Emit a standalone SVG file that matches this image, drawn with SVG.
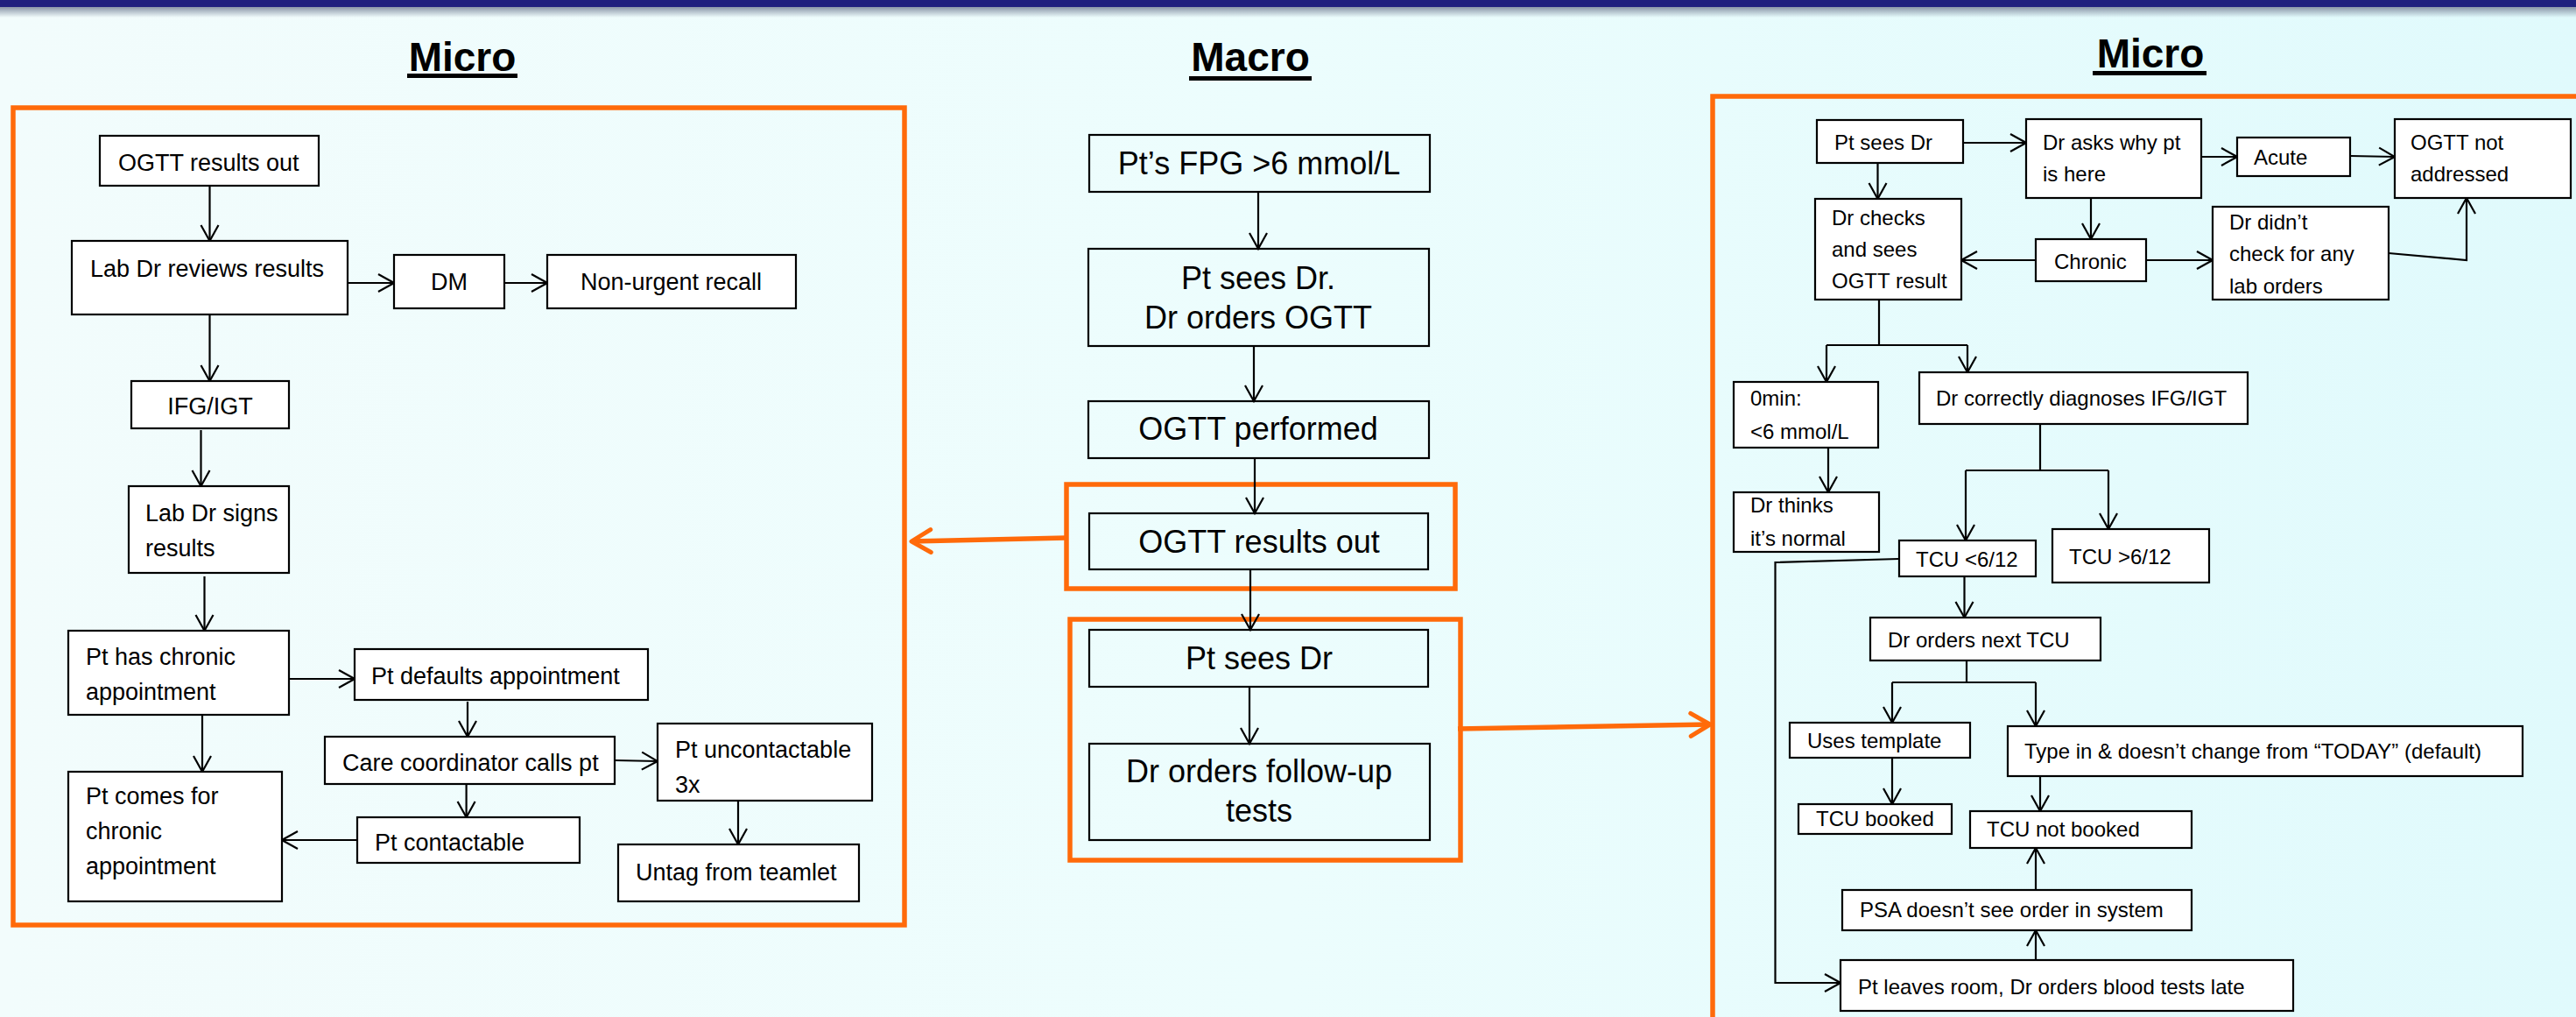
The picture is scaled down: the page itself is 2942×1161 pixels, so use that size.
<svg xmlns="http://www.w3.org/2000/svg" width="2942" height="1161" viewBox="0 0 2942 1161">
<defs>
<linearGradient id="bg" x1="0" y1="0" x2="1" y2="0">
<stop offset="0" stop-color="#F2FCFC"/>
<stop offset="0.5" stop-color="#ECFDFD"/>
<stop offset="1" stop-color="#E0FAFC"/>
</linearGradient>
<linearGradient id="shade" x1="0" y1="0" x2="0" y2="1">
<stop offset="0" stop-color="#8A96A8"/>
<stop offset="1" stop-color="#8A96A8" stop-opacity="0"/>
</linearGradient>
<marker id="ah" markerUnits="userSpaceOnUse" viewBox="-2 -12 22 24" refX="18" refY="0" markerWidth="22" markerHeight="24" orient="auto">
<path d="M0,-10 L18,0 L0,10" fill="none" stroke="#000" stroke-width="2.2"/>
</marker>
<marker id="oh" markerUnits="userSpaceOnUse" viewBox="-3 -16 28 32" refX="22" refY="0" markerWidth="28" markerHeight="32" orient="auto">
<path d="M0,-13 L22,0 L0,13" fill="none" stroke="#FF6A0A" stroke-width="5" stroke-linecap="round" stroke-linejoin="round"/>
</marker>
</defs>
<style>
.box{fill:#fff;stroke:#000;stroke-width:2.2}
.mbox{fill:none;stroke:#000;stroke-width:2.2}
.org{fill:none;stroke:#FF6A0A;stroke-width:5.5}
.c{fill:none;stroke:#000;stroke-width:2.2}
.ca{fill:none;stroke:#000;stroke-width:2.2;marker-end:url(#ah)}
.oc{fill:none;stroke:#FF6A0A;stroke-width:5.5;marker-end:url(#oh)}
text{font-family:"Liberation Sans",Arial,sans-serif;fill:#000}
.ttl{font-size:46px;font-weight:bold;text-anchor:middle}
.l{font-size:27px}
.m{font-size:36px;text-anchor:middle}
.r{font-size:24px}
</style>
<rect x="0" y="0" width="2942" height="1161" fill="url(#bg)"/>
<rect x="0" y="8" width="2942" height="12" fill="url(#shade)"/>
<rect x="0" y="0" width="2942" height="8" fill="#20207E"/>

<g id="titles">
<text class="ttl" x="528" y="81">Micro</text>
<rect x="465" y="84" width="126" height="5"/>
<text class="ttl" x="1428" y="81">Macro</text>
<rect x="1358" y="87" width="140" height="5"/>
<text class="ttl" x="2456" y="77">Micro</text>
<rect x="2390" y="81" width="130" height="5"/>
</g>

<g id="frames">
<rect class="org" x="15" y="123" width="1018" height="933"/>
<rect class="org" x="1218" y="553" width="444" height="119"/>
<rect class="org" x="1222" y="707" width="446" height="275"/>
<rect class="org" x="1956" y="110" width="1100" height="1200"/>
</g>

<g id="connectors">
<!-- left -->
<line class="ca" x1="239.5" y1="212" x2="239.5" y2="275"/>
<line class="ca" x1="397" y1="323" x2="450" y2="323"/>
<line class="ca" x1="576" y1="323" x2="625" y2="323"/>
<line class="ca" x1="239.5" y1="359" x2="239.5" y2="435"/>
<line class="ca" x1="229.5" y1="491" x2="229.5" y2="555"/>
<line class="ca" x1="233.5" y1="658" x2="233.5" y2="720"/>
<line class="ca" x1="330" y1="775" x2="405" y2="775"/>
<line class="ca" x1="534" y1="801" x2="534" y2="841"/>
<line class="ca" x1="702" y1="868" x2="751" y2="869"/>
<line class="ca" x1="843" y1="914" x2="843" y2="964"/>
<line class="ca" x1="532.6" y1="895" x2="532.6" y2="933"/>
<line class="ca" x1="408" y1="959" x2="322" y2="959"/>
<line class="ca" x1="231" y1="816" x2="231" y2="881"/>
<!-- middle -->
<line class="ca" x1="1437" y1="219" x2="1437" y2="284"/>
<line class="ca" x1="1432" y1="395" x2="1432" y2="458"/>
<line class="ca" x1="1433" y1="523" x2="1433" y2="586"/>
<line class="ca" x1="1428" y1="650" x2="1428" y2="719"/>
<line class="ca" x1="1427" y1="784" x2="1427" y2="849"/>
<line class="oc" x1="1218" y1="614" x2="1041" y2="618"/>
<line class="oc" x1="1665" y1="832" x2="1953" y2="827"/>
<!-- right -->
<line class="ca" x1="2242" y1="163" x2="2314" y2="163"/>
<line class="ca" x1="2514" y1="179" x2="2555" y2="179"/>
<line class="ca" x1="2684" y1="178" x2="2735" y2="179"/>
<line class="ca" x1="2144.5" y1="186" x2="2144.5" y2="227"/>
<line class="ca" x1="2388" y1="226" x2="2388" y2="273"/>
<line class="ca" x1="2325" y1="297" x2="2240" y2="297"/>
<line class="ca" x1="2451" y1="297" x2="2527" y2="297"/>
<polyline class="ca" points="2728,289 2817,297 2817,226"/>
<line class="c" x1="2146" y1="342" x2="2146" y2="394"/>
<line class="c" x1="2086" y1="394" x2="2247" y2="394"/>
<line class="ca" x1="2086" y1="394" x2="2086" y2="436"/>
<line class="ca" x1="2247" y1="394" x2="2247" y2="425"/>
<line class="ca" x1="2088" y1="511" x2="2088" y2="562"/>
<line class="c" x1="2330" y1="484" x2="2330" y2="537"/>
<line class="c" x1="2245" y1="537" x2="2408" y2="537"/>
<line class="ca" x1="2245" y1="537" x2="2245" y2="617"/>
<line class="ca" x1="2408" y1="537" x2="2408" y2="604"/>
<polyline class="ca" points="2169,638 2027.5,642 2027.5,1122 2102,1122"/>
<line class="ca" x1="2243.5" y1="658" x2="2243.5" y2="705"/>
<line class="c" x1="2246" y1="754" x2="2246" y2="779"/>
<line class="c" x1="2161" y1="779" x2="2325" y2="779"/>
<line class="ca" x1="2161" y1="779" x2="2161" y2="825"/>
<line class="ca" x1="2325" y1="779" x2="2325" y2="829"/>
<line class="ca" x1="2161" y1="865" x2="2161" y2="918"/>
<line class="ca" x1="2330" y1="886" x2="2330" y2="926"/>
<line class="ca" x1="2325" y1="1016" x2="2325" y2="968"/>
<line class="ca" x1="2325" y1="1096" x2="2325" y2="1062"/>
</g>

<!-- left nodes -->
<g id="l-ogtt-out"><rect class="box" x="114" y="155" width="250" height="57"/><text class="l" x="135" y="195">OGTT results out</text></g>
<g id="l-lab-reviews"><rect class="box" x="82" y="275" width="315" height="84"/><text class="l" x="103" y="316">Lab Dr reviews results</text></g>
<g id="l-dm"><rect class="box" x="450" y="291" width="126" height="61"/><text class="l" x="513" y="331" text-anchor="middle">DM</text></g>
<g id="l-nonurgent"><rect class="box" x="625" y="291" width="284" height="61"/><text class="l" x="663" y="331">Non-urgent recall</text></g>
<g id="l-ifg"><rect class="box" x="150" y="435" width="180" height="54"/><text class="l" x="240" y="473" text-anchor="middle">IFG/IGT</text></g>
<g id="l-signs"><rect class="box" x="147" y="555" width="183" height="99"/><text class="l" x="166" y="595">Lab Dr signs</text><text class="l" x="166" y="635">results</text></g>
<g id="l-chronic-appt"><rect class="box" x="78" y="720" width="252" height="96"/><text class="l" x="98" y="759">Pt has chronic</text><text class="l" x="98" y="799">appointment</text></g>
<g id="l-defaults"><rect class="box" x="405" y="741" width="335" height="58"/><text class="l" x="424" y="781">Pt defaults appointment</text></g>
<g id="l-care"><rect class="box" x="371" y="841" width="331" height="54"/><text class="l" x="391" y="880">Care coordinator calls pt</text></g>
<g id="l-uncontactable"><rect class="box" x="751" y="826" width="245" height="88"/><text class="l" x="771" y="865">Pt uncontactable</text><text class="l" x="771" y="905">3x</text></g>
<g id="l-untag"><rect class="box" x="706" y="964" width="275" height="65"/><text class="l" x="726" y="1005">Untag from teamlet</text></g>
<g id="l-contactable"><rect class="box" x="408" y="933" width="254" height="52"/><text class="l" x="428" y="971">Pt contactable</text></g>
<g id="l-comes"><rect class="box" x="78" y="881" width="244" height="148"/><text class="l" x="98" y="918">Pt comes for</text><text class="l" x="98" y="958">chronic</text><text class="l" x="98" y="998">appointment</text></g>

<!-- macro nodes -->
<g id="m-fpg"><rect class="mbox" x="1244" y="154" width="389" height="65"/><text class="m" x="1438" y="199">Pt’s FPG &gt;6 mmol/L</text></g>
<g id="m-sees-orders"><rect class="mbox" x="1243" y="284" width="389" height="111"/><text class="m" x="1437" y="330">Pt sees Dr.</text><text class="m" x="1437" y="375">Dr orders OGTT</text></g>
<g id="m-performed"><rect class="mbox" x="1243" y="458" width="389" height="65"/><text class="m" x="1437" y="502">OGTT performed</text></g>
<g id="m-results"><rect class="mbox" x="1244" y="586" width="387" height="64"/><text class="m" x="1438" y="631">OGTT results out</text></g>
<g id="m-sees"><rect class="mbox" x="1244" y="719" width="387" height="65"/><text class="m" x="1438" y="764">Pt sees Dr</text></g>
<g id="m-followup"><rect class="mbox" x="1244" y="849" width="389" height="110"/><text class="m" x="1438" y="893">Dr orders follow-up</text><text class="m" x="1438" y="938">tests</text></g>

<!-- right nodes -->
<g id="r-sees"><rect class="box" x="2075" y="137" width="167" height="49"/><text class="r" x="2095" y="171">Pt sees Dr</text></g>
<g id="r-asks"><rect class="box" x="2314" y="136" width="200" height="90"/><text class="r" x="2333" y="171">Dr asks why pt</text><text class="r" x="2333" y="207">is here</text></g>
<g id="r-acute"><rect class="box" x="2555" y="157" width="129" height="44"/><text class="r" x="2574" y="188">Acute</text></g>
<g id="r-notaddr"><rect class="box" x="2735" y="136" width="201" height="90"/><text class="r" x="2753" y="171">OGTT not</text><text class="r" x="2753" y="207">addressed</text></g>
<g id="r-checks"><rect class="box" x="2073" y="227" width="167" height="115"/><text class="r" x="2092" y="257">Dr checks</text><text class="r" x="2092" y="293">and sees</text><text class="r" x="2092" y="329">OGTT result</text></g>
<g id="r-chronic"><rect class="box" x="2325" y="273" width="126" height="48"/><text class="r" x="2346" y="307">Chronic</text></g>
<g id="r-didnt"><rect class="box" x="2527" y="236" width="201" height="106"/><text class="r" x="2546" y="262">Dr didn’t</text><text class="r" x="2546" y="298">check for any</text><text class="r" x="2546" y="335">lab orders</text></g>
<g id="r-0min"><rect class="box" x="1980" y="436" width="165" height="75"/><text class="r" x="1999" y="463">0min:</text><text class="r" x="1999" y="501">&lt;6 mmol/L</text></g>
<g id="r-diag"><rect class="box" x="2192" y="425" width="375" height="59"/><text class="r" x="2211" y="463">Dr correctly diagnoses IFG/IGT</text></g>
<g id="r-normal"><rect class="box" x="1980" y="562" width="166" height="68"/><text class="r" x="1999" y="585">Dr thinks</text><text class="r" x="1999" y="623">it’s normal</text></g>
<g id="r-tcu-lt"><rect class="box" x="2169" y="617" width="156" height="41"/><text class="r" x="2188" y="647">TCU &lt;6/12</text></g>
<g id="r-tcu-gt"><rect class="box" x="2344" y="604" width="179" height="61"/><text class="r" x="2363" y="644">TCU &gt;6/12</text></g>
<g id="r-next"><rect class="box" x="2136" y="705" width="263" height="49"/><text class="r" x="2156" y="739">Dr orders next TCU</text></g>
<g id="r-template"><rect class="box" x="2044" y="825" width="206" height="40"/><text class="r" x="2064" y="854">Uses template</text></g>
<g id="r-booked"><rect class="box" x="2054" y="918" width="175" height="34"/><text class="r" x="2074" y="943">TCU booked</text></g>
<g id="r-typein"><rect class="box" x="2293" y="829" width="588" height="57"/><text class="r" x="2312" y="866">Type in &amp; doesn’t change from “TODAY” (default)</text></g>
<g id="r-notbooked"><rect class="box" x="2250" y="926" width="253" height="42"/><text class="r" x="2269" y="955">TCU not booked</text></g>
<g id="r-psa"><rect class="box" x="2104" y="1016" width="399" height="46"/><text class="r" x="2124" y="1047">PSA doesn’t see order in system</text></g>
<g id="r-leaves"><rect class="box" x="2102" y="1096" width="517" height="58"/><text class="r" x="2122" y="1135">Pt leaves room, Dr orders blood tests late</text></g>
</svg>
